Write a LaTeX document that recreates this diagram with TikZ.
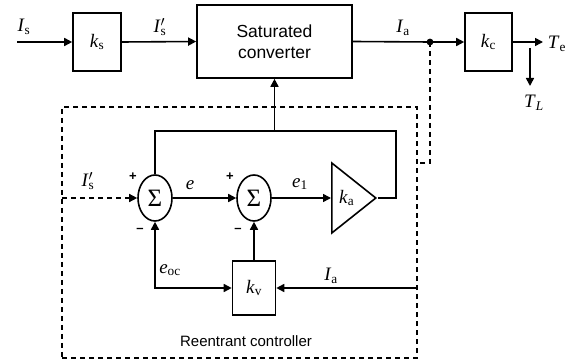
\documentclass[tikz,border=0pt]{standalone}
\usepackage{fontspec}
\setmainfont{Liberation Serif}
\newfontfamily\arialf{Liberation Sans}
\usetikzlibrary{arrows.meta,shapes.geometric,calc}
\newcommand\lbl[2]{\textit{#1}\textsubscript{#2}}
\newcommand\lblp[2]{\textit{#1}\rlap{$^{\prime}$}\textsubscript{#2}}
\begin{document}
\begin{tikzpicture}[x=1pt,y=-1pt,line width=1.6pt,
  >={Triangle[length=8pt,width=8pt]},
  blk/.style={draw,rectangle,inner sep=0pt,font=\fontsize{19}{19}\selectfont},
  sumn/.style={draw,ellipse,minimum width=34pt,minimum height=46pt,inner sep=0pt,font=\fontsize{25}{25}\selectfont},
  lab/.style={font=\fontsize{19}{19}\selectfont},
  sgn/.style={font=\arialf\bfseries\fontsize{13}{13}\selectfont},
  dsh/.style={line width=1.4pt,dash pattern=on 5pt off 4pt}]
\useasboundingbox (0,0) rectangle (570,363);
% top row
\node[blk,minimum width=48pt,minimum height=58pt] (ks) at (97,42) {\lbl{k}{s}};
\node[blk,minimum width=155pt,minimum height=73pt,align=center,font=\arialf\fontsize{17.5}{21}\selectfont] (conv) at (274.5,41.5) {Saturated\\converter};
\node[blk,minimum width=47pt,minimum height=58pt] (kc) at (488.5,42) {\lbl{k}{c}};
\coordinate (isin) at (17,42);
\coordinate (dot) at (430,42);
\coordinate (teout) at (543,42);
\coordinate (tla) at (530,48);
\coordinate (tlb) at (530,86);
\fill (dot) circle (3.4pt);
\draw[->] (isin) -- (ks.west);
\draw[->] (ks.east) -- (conv.west);
\draw (conv.east) -- (dot);
\draw[->] (dot) -- (kc.west);
\draw[->] (kc.east) -- (teout);
\draw[->] (tla) -- (tlb);
\node[lab] (lis) at (24,27) {\lbl{I}{s}};
\node[lab] (lisp) at (160,27) {\lblp{I}{s}};
\node[lab] (lia) at (403,28) {\lbl{I}{a}};
\node[lab] (lte) at (557,44) {\lbl{T}{e}};
\node[lab] (ltl) at (534,103) {\lbl{T}{\textit{L}}};
% dashed controller box
\node[draw,dsh,rectangle,minimum width=355pt,minimum height=251pt,inner sep=0pt] (cbox) at (239.5,232.5) {};
\coordinate (jog) at (417,163);
\draw[dsh] (dot) |- (jog);
\node[font=\arialf\fontsize{15}{15}\selectfont] (lrc) at (246,341) {Reentrant controller};
% inner loop
\node[sumn] (s1) at (155,198) {Σ};
\node[sumn] (s2) at (254,198) {Σ};
\node[draw,isosceles triangle,isosceles triangle stretches,minimum width=70pt,minimum height=44pt,inner sep=0pt,anchor=lower side,font=\fontsize{19}{19}\selectfont] (ka) at (331,198) {\lbl{k}{a}};
\node[blk,minimum width=43pt,minimum height=54pt] (kv) at (254,288) {\lbl{k}{v}};
\coordinate (isp) at (62,198);
\coordinate (fbr) at (396,131);
\coordinate (tap) at (conv.south |- fbr);
\coordinate (iafb) at (417,288);
\draw[dsh,->] (isp) -- (s1.west);
\draw[->] (s1.east) -- (s2.west);
\draw[->] (s2.east) -- (ka.lower side);
\draw (ka.apex) -| (fbr) -| (s1.north);
\draw[->] (tap) -- (conv.south);
\draw[->] (kv.north) -- (s2.south);
\draw[<->] (s1.south) |- (kv.west);
\draw[->] (iafb) -- (kv.east);
% labels
\node[lab] (lisp2) at (88,181) {\lblp{I}{s}};
\node[lab] (le) at (190,185) {\textit{e}};
\node[lab] (le1) at (300,184) {\lbl{e}{1}};
\node[lab] (leoc) at (170,270) {\lbl{e}{oc}};
\node[lab] (lia2) at (331,276) {\lbl{I}{a}};
\node[sgn] (p1) at (133,177) {+};
\node[sgn] (p2) at (230,177) {+};
\node[sgn] (m1) at (140,230) {–};
\node[sgn] (m2) at (238,230) {–};
\end{tikzpicture}
\end{document}
